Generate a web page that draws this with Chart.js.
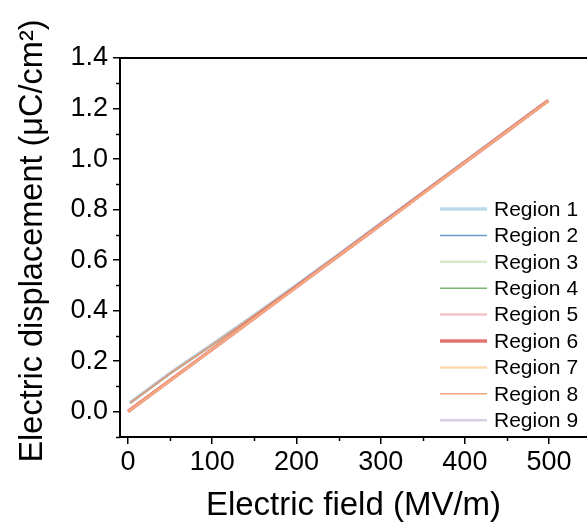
<!DOCTYPE html>
<html>
<head>
<meta charset="utf-8">
<script src="https://cdn.jsdelivr.net/npm/chart.js@4/dist/chart.umd.min.js"></script>
<style>
html,body{margin:0;padding:0;background:#fff;}
#wrap{width:587px;height:522px;}
</style>
</head>
<body>
<div id="wrap"><canvas id="c" width="587" height="522"></canvas></div>
<script>
// ---- data ----
const regionNames = ['Region 1','Region 2','Region 3','Region 4','Region 5','Region 6','Region 7','Region 8','Region 9'];
const fieldUpper = [2.5, 50, 100, 150, 200, 250, 300, 350, 400, 450, 499];
const fieldLower = [0, 50, 100, 150, 200, 250, 300, 350, 400, 450, 499];
const region1 = [0.036, 0.153, 0.266, 0.382, 0.501, 0.622, 0.745, 0.867, 0.990, 1.112, 1.232];
const region2 = [0.034, 0.151, 0.264, 0.380, 0.499, 0.620, 0.743, 0.866, 0.989, 1.111, 1.230];
const region3 = [0.035, 0.152, 0.265, 0.381, 0.500, 0.621, 0.744, 0.866, 0.989, 1.112, 1.231];
const region4 = [0.035, 0.152, 0.265, 0.381, 0.500, 0.621, 0.744, 0.866, 0.989, 1.111, 1.231];
const region5 = [0.000, 0.123, 0.247, 0.370, 0.493, 0.616, 0.740, 0.863, 0.986, 1.110, 1.230];
const region6 = [0.001, 0.124, 0.247, 0.371, 0.494, 0.617, 0.740, 0.864, 0.987, 1.110, 1.231];
const region7 = [0.000, 0.123, 0.246, 0.370, 0.493, 0.616, 0.739, 0.863, 0.986, 1.109, 1.230];
const region8 = [0.034, 0.151, 0.264, 0.380, 0.499, 0.620, 0.743, 0.866, 0.989, 1.111, 1.231];
const region9 = [0.036, 0.153, 0.266, 0.382, 0.501, 0.622, 0.745, 0.867, 0.990, 1.112, 1.232];
const regionValues = [region1, region2, region3, region4, region5, region6, region7, region8, region9];
const regionFields = [fieldUpper, fieldUpper, fieldUpper, fieldUpper, fieldLower, fieldLower, fieldLower, fieldUpper, fieldUpper];
const xTicks = [0, 100, 200, 300, 400, 500];
const xMinorTicks = [50, 150, 250, 350, 450];
const yTicks = [0.0, 0.2, 0.4, 0.6, 0.8, 1.0, 1.2, 1.4];
const yMinorTicks = [-0.1, 0.1, 0.3, 0.5, 0.7, 0.9, 1.1, 1.3];
const xTitle = 'Electric field (MV/m)';
const yTitle = 'Electric displacement (μC/cm²)';

// ---- styles ----
const colors = ['rgba(166,206,227,0.75)','rgba(80,140,200,0.85)','rgba(190,222,170,0.6)','rgba(90,160,80,0.8)',
                'rgba(240,170,170,0.7)','rgba(225,90,90,0.85)','rgba(253,200,140,0.7)','rgba(235,150,100,0.85)','rgba(200,185,220,0.7)'];
const widths = [3.5, 1.5, 2.5, 1.5, 2.5, 3.5, 2.5, 1.5, 2.5];
const drawOrder = [9, 8, 7, 6, 3, 2, 1, 4, 5];

const datasets = regionNames.map((name, i) => ({
  label: name,
  data: regionFields[i].map((x, k) => ({x: x, y: regionValues[i][k]})),
  borderColor: colors[i],
  backgroundColor: colors[i],
  borderWidth: widths[i],
  pointRadius: 0,
  showLine: true,
  fill: false,
  tension: 0,
  order: drawOrder[i]
}));

const FONT = "'Liberation Sans', Arial, sans-serif";

const decor = {
  id: 'decor',
  afterDraw(chart) {
    const ctx = chart.ctx;
    const x = chart.scales.x, y = chart.scales.y;
    const a = chart.chartArea;
    ctx.save();
    ctx.strokeStyle = '#000';
    ctx.lineWidth = 2;
    ctx.beginPath();
    ctx.moveTo(a.left - 1, a.top);
    ctx.lineTo(a.right, a.top);
    ctx.stroke();
    ctx.lineWidth = 1.5;
    xMinorTicks.forEach(v => {
      const px = Math.round(x.getPixelForValue(v)) + 0.5;
      ctx.beginPath(); ctx.moveTo(px, a.bottom); ctx.lineTo(px, a.bottom + 4); ctx.stroke();
    });
    yMinorTicks.forEach(v => {
      const py = Math.round(y.getPixelForValue(v)) + 0.5;
      ctx.beginPath(); ctx.moveTo(a.left, py); ctx.lineTo(a.left - 4, py); ctx.stroke();
    });
    // y title
    ctx.save();
    ctx.translate(33, 241);
    ctx.rotate(-Math.PI / 2);
    ctx.font = '32.5px ' + FONT;
    ctx.fillStyle = '#000';
    ctx.textAlign = 'center';
    ctx.textBaseline = 'middle';
    ctx.fillText(yTitle, 0, 0);
    ctx.restore();
    // legend
    ctx.font = '21px ' + FONT;
    ctx.textBaseline = 'middle';
    ctx.textAlign = 'left';
    chart.data.datasets.forEach((ds, i) => {
      const ly = 209 + i * 26.4;
      ctx.strokeStyle = ds.borderColor;
      ctx.lineWidth = ds.borderWidth;
      ctx.beginPath(); ctx.moveTo(440, ly); ctx.lineTo(487, ly); ctx.stroke();
      ctx.fillStyle = '#000';
      ctx.fillText(ds.label, 494, ly + 1);
    });
    ctx.restore();
  }
};

new Chart(document.getElementById('c'), {
  type: 'scatter',
  data: { datasets: datasets },
  options: {
    responsive: false,
    animation: false,
    layout: { padding: { top: 58, right: 0, left: 0, bottom: 0 } },
    plugins: { legend: { display: false }, tooltip: { enabled: false } },
    scales: {
      x: {
        type: 'linear', min: -9.5, max: 545,
        afterBuildTicks: s => { s.ticks = xTicks.map(v => ({value: v})); },
        afterFit: s => { s.height = 85; },
        ticks: { color: '#000', font: { family: FONT, size: 27 }, padding: 2, maxRotation: 0, callback: v => String(v) },
        grid: { display: true, drawOnChartArea: false, drawTicks: true, tickLength: 7, color: '#000', lineWidth: 1.5 },
        border: { display: true, color: '#000', width: 2 },
        title: { display: true, text: xTitle, color: '#000', font: { family: FONT, size: 33, lineHeight: 1 }, padding: { top: 0, bottom: 0 } }
      },
      y: {
        type: 'linear', min: -0.1, max: 1.4,
        afterBuildTicks: s => { s.ticks = yTicks.map(v => ({value: v})); },
        afterFit: s => { s.width = 120; },
        ticks: { color: '#000', font: { family: FONT, size: 27 }, padding: 5, callback: v => Number(v).toFixed(1) },
        grid: { display: true, drawOnChartArea: false, drawTicks: true, tickLength: 7, color: '#000', lineWidth: 1.5 },
        border: { display: true, color: '#000', width: 2 },
        title: { display: false }
      }
    }
  },
  plugins: [decor]
});
</script>
</body>
</html>
